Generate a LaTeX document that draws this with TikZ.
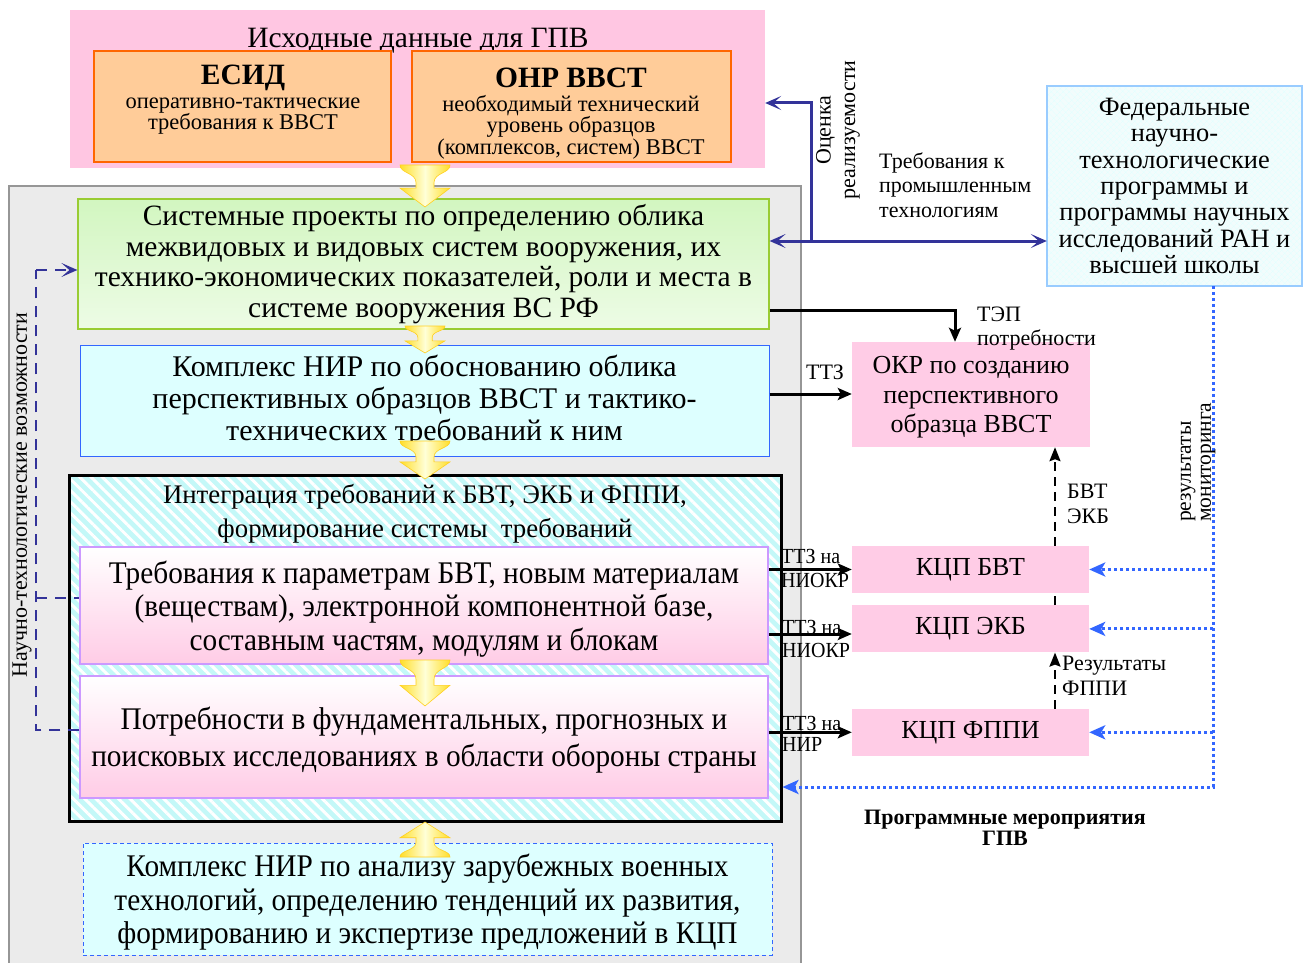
\documentclass[tikz,border=0pt]{standalone}
\usepackage{fontspec}
\setmainfont{Liberation Serif}
\newfontfamily\condfont[FakeStretch=0.93]{Liberation Serif}
\usetikzlibrary{arrows.meta,positioning,patterns.meta}
\setlength{\lineskiplimit}{-\maxdimen}

\definecolor{pinkbg}{RGB}{255,198,226}
\definecolor{pinkbox}{RGB}{255,204,230}
\definecolor{orangefill}{RGB}{255,204,153}
\definecolor{orangeline}{RGB}{255,102,0}
\definecolor{graybg}{RGB}{235,235,235}
\definecolor{grayline}{RGB}{150,150,150}
\definecolor{greenline}{RGB}{153,204,51}
\definecolor{greenfill}{RGB}{210,246,192}
\definecolor{cyanfill}{RGB}{221,255,255}
\definecolor{blueline}{RGB}{51,102,255}
\definecolor{navy}{RGB}{51,51,153}
\definecolor{lilac}{RGB}{204,153,255}
\definecolor{hatchcyan}{RGB}{196,248,248}
\definecolor{arrowyellow}{RGB}{255,222,40}
\definecolor{arrowpale}{RGB}{255,255,215}
\definecolor{fedline}{RGB}{153,204,255}
\definecolor{fedfill}{RGB}{242,252,252}

\tikzset{
	box/.style = {rectangle, inner sep=0pt, align=center},
	bigtext/.style = {font=\fontsize{29.5}{30.5}\selectfont},
	condtext/.style = {font=\condfont\fontsize{31.5}{33.5}\selectfont},
	smalltext/.style = {inner sep=0pt, font=\fontsize{22.5}{21.5}\selectfont, align=center},
	boldtitle/.style = {inner sep=0pt, font=\bfseries\fontsize{29.5}{32}\selectfont},
	lbl/.style = {inner sep=0pt, font=\fontsize{22}{24.5}\selectfont, align=left},
	pinkgrad/.style = {box, draw=lilac, line width=1.5pt, top color=white, bottom color=pinkbox, text depth=0pt},
	kcp/.style = {box, fill=pinkbox, minimum width=237pt, minimum height=47pt, font=\fontsize{26}{28}\selectfont},
	navyarrow/.style = {draw=navy, line width=3pt, -{Stealth[length=16pt,width=14pt,inset=8pt]}},
	blkarrow/.style = {line width=3pt, -{Stealth[length=14pt,width=12pt,inset=3pt]}},
	dasharrow/.style = {line width=2pt, dash pattern=on 9pt off 6pt, -{Stealth[length=14pt,width=11pt,inset=2pt]}},
	dotarrow/.style = {draw=blueline, line width=3pt, dash pattern=on 3pt off 3pt, -{Stealth[length=16pt,width=14pt,inset=4pt]}},
	navydash/.style = {draw=navy, line width=2.5pt, dash pattern=on 11pt off 8pt},
	yarrow/.style = {left color=arrowyellow, right color=arrowyellow, middle color=arrowpale, draw=arrowyellow!85!orange, line width=0.6pt}
}

\begin{document}
\begin{tikzpicture}[x=1pt, y=-1pt]
	\useasboundingbox (0,0) rectangle (1304,963);
	
	% source data
	\node[box, fill=pinkbg, minimum width=695pt, minimum height=158pt] (src) at (417.5,89) {};
	\node[bigtext] (srctitle) at (418,41) {Исходные данные для ГПВ};
	\node[box, draw=orangeline, fill=orangefill, line width=1.2pt, minimum width=297pt, minimum height=111pt] (esid) at (242.5,106.5) {};
	\node[boldtitle] (esidtitle) at (243,78) {ЕСИД};
	\node[smalltext] (esidtext) at (243,116) {оперативно-тактические\\требования к ВВСТ};
	\node[box, draw=orangeline, fill=orangefill, line width=1.2pt, minimum width=319pt, minimum height=111pt] (onr) at (571.5,106.5) {};
	\node[boldtitle] (onrtitle) at (571,78) {ОНР ВВСТ};
	\node[smalltext] (onrtext) at (571,127) {необходимый технический\\уровень образцов\\(комплексов, систем) ВВСТ};
	
	% main column
	\node[box, fill=graybg, draw=grayline, line width=1.5pt, minimum width=792pt, minimum height=790pt, anchor=north west] (main) at (8,185) {};
	\node[box, bigtext, draw=greenline, line width=1.2pt, top color=greenfill, bottom color=greenfill!40, minimum width=691pt, minimum height=130pt] (sys) at (423.5,264)
		{Системные проекты по определению облика\\межвидовых и видовых систем вооружения, их\\технико-экономических показателей, роли и места в\\системе вооружения ВС РФ};
	\node[box, font=\fontsize{30}{32}\selectfont, draw=blueline, line width=1pt, fill=cyanfill, minimum width=689pt, minimum height=111pt] (nir) at (424.5,400.5)
		{Комплекс НИР по обоснованию облика\\перспективных образцов ВВСТ и тактико-\\технических требований к ним};
	\node[box, draw, line width=3pt, preaction={fill=hatchcyan}, pattern={Lines[angle=-45,distance=8pt,line width=3pt]}, pattern color=white, minimum width=712pt, minimum height=346pt] (integ) at (425,648) {};
	\node[font=\fontsize{26.8}{34}\selectfont, align=center] (integtitle) at (425,514) {Интеграция требований к БВТ, ЭКБ и ФППИ,\\формирование системы~~требований};
	\node[pinkgrad, condtext, minimum width=688pt, minimum height=117pt] (req) at (424,605.5)
		{Требования к параметрам БВТ, новым материалам\\(веществам), электронной компонентной базе,\\составным частям, модулям и блокам};
	\node[pinkgrad, condtext, font=\condfont\fontsize{31.5}{37}\selectfont, minimum width=688pt, minimum height=122pt] (need) at (424,737)
		{Потребности в фундаментальных, прогнозных и\\поисковых исследованиях в области обороны страны};
	\node[box, condtext, text depth=0pt, draw=blueline, dash pattern=on 4pt off 3pt, line width=1pt, fill=cyanfill, minimum width=689pt, minimum height=112pt] (abroad) at (427.5,899)
		{Комплекс НИР по анализу зарубежных военных\\технологий, определению тенденций их развития,\\формированию и экспертизе предложений в КЦП};
	
	% yellow arrows
	\foreach \ya/\len/\hw/\dir in {165/42/25/1, 326/27/20/1, 441/38/25/1, 660/46/25/1, 857/35/25/-1}
		\shade[yarrow, shift={(425,\ya)}, yscale=\dir]
			(-\hw,0) -- (\hw,0) .. controls (\hw,0.2*\len) and (0.36*\hw,0.18*\len) .. (0.36*\hw,0.42*\len)
			-- (0.36*\hw,0.55*\len) -- (\hw,0.55*\len) -- (0,\len) -- (-\hw,0.55*\len) -- (-0.36*\hw,0.55*\len)
			-- (-0.36*\hw,0.42*\len) .. controls (-0.36*\hw,0.18*\len) and (-\hw,0.2*\len) .. (-\hw,0) -- cycle;
	
	% right side
	\node[box, draw=fedline, line width=1.2pt, preaction={fill=fedfill}, pattern={Hatch[angle=45,distance=4pt,line width=0.4pt]}, pattern color=cyan!12, font=\fontsize{26.4}{26.4}\selectfont, minimum width=255pt, minimum height=200pt] (fed) at (1174.5,186)
		{Федеральные\\научно-\\технологические\\программы и\\программы научных\\исследований РАН и\\высшей школы};
	\node[box, fill=pinkbox, text depth=0pt, font=\fontsize{26}{29.5}\selectfont, minimum width=238pt, minimum height=105pt] (okr) at (971,394.5)
		{ОКР по созданию\\перспективного\\образца ВВСТ};
	\node[kcp] (kbvt) at (970.5,569.5) {КЦП БВТ};
	\node[kcp, below=12pt of kbvt] (kekb) {КЦП ЭКБ};
	\node[kcp, below=56pt of kekb] (kfppi) {КЦП ФППИ};
	
	% navy connectors
	\coordinate (jn) at (811,241);
	\coordinate (oc) at (811,103);
	\draw[navyarrow] (jn) -- (oc) -- (oc -| src.east);
	\draw[navyarrow, {Stealth[length=16pt,width=14pt,inset=8pt]}-{Stealth[length=16pt,width=14pt,inset=8pt]}] (jn -| sys.east) -- (jn -| fed.west);
	\node[lbl, rotate=90, align=center] (ocl) at (838,130) {Оценка\\реализуемости};
	\node[lbl, anchor=west] (reql) at (879,185) {Требования к\\промышленным\\технологиям};
	
	% black connectors
	\draw[blkarrow] (sys.east |- 0,310) -| (955,0 |- okr.north);
	\node[lbl, anchor=west] (tepl) at (977,328.5) {ТЭП\\потребности};
	\draw[blkarrow] (nir.east |- 0,394) -- (okr.west |- 0,394);
	\node[lbl] (ttzl) at (825,372) {ТТЗ};
	\draw[blkarrow] (kbvt.west -| req.east) -- (kbvt.west);
	\draw[blkarrow] (0,634 -| req.east) -- (0,634 -| kekb.west);
	\draw[blkarrow] (kfppi.west -| need.east) -- (kfppi.west);
	\node[lbl, font=\condfont\fontsize{21.5}{24}\selectfont, anchor=west] (ttza) at (781,568) {ТТЗ на\\НИОКР};
	\node[lbl, font=\condfont\fontsize{21.5}{23}\selectfont, anchor=west] (ttzb) at (782,638.5) {ТТЗ на\\НИОКР};
	\node[lbl, font=\condfont\fontsize{21.5}{21}\selectfont, anchor=west] (ttzc) at (782,733.5) {ТТЗ на\\НИР};
	
	% dashed connectors
	\draw[dasharrow] (kbvt.north -| 1055,0) -- (okr.south -| 1055,0);
	\draw[line width=2pt, dash pattern=on 9pt off 6pt] (kekb.north -| 1055,0) -- (kbvt.south -| 1055,0);
	\draw[dasharrow] (kfppi.north -| 1055,0) -- (kekb.south -| 1055,0);
	\node[lbl, anchor=west] (bvtl) at (1067,504) {БВТ\\ЭКБ};
	\node[lbl, anchor=west] (resl) at (1062,676) {Результаты\\ФППИ};
	
	% monitoring
	\coordinate (mb) at (1213,787);
	\draw[dotarrow] (fed.south -| mb) -- (mb) -- (mb -| integ.east);
	\draw[dotarrow] (kbvt.east -| mb) -- (kbvt.east);
	\draw[dotarrow] (kekb.east -| mb) -- (kekb.east);
	\draw[dotarrow] (kfppi.east -| mb) -- (kfppi.east);
	\node[lbl, rotate=90, anchor=west, font=\fontsize{21.5}{20}\selectfont] (monl) at (1198,522) {результаты\\мониторинга};
	
	% science capabilities
	\coordinate (lb) at (36,730);
	\draw[navydash] (lb -| need.west) -- (lb) -- (36,270);
	\draw[navydash] (36,598) -- (36,598 -| req.west);
	\draw[navydash, -{Stealth[length=16pt,width=14pt,inset=8pt]}] (36,270) -- (36,270 -| sys.west);
	\node[lbl, rotate=90] (capl) at (22,495) {Научно-технологические возможности};
	
	\node[font=\bfseries\fontsize{22}{21}\selectfont, align=center] (progl) at (1005,827.5) {Программные мероприятия\\ГПВ};
\end{tikzpicture}
\end{document}
